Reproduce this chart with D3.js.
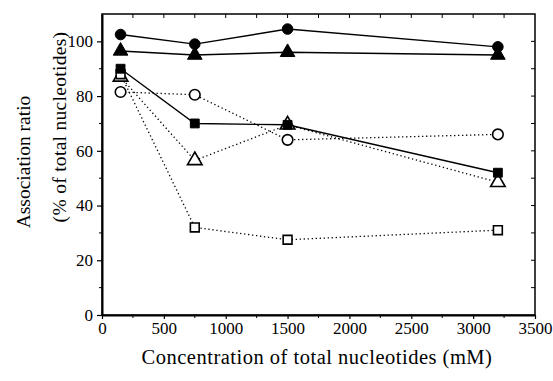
<!DOCTYPE html>
<html><head><meta charset="utf-8">
<script src="https://cdn.jsdelivr.net/npm/d3@7"></script>
<style>body{margin:0;background:#fff}svg{display:block}</style>
</head><body>
<svg id="c" width="553" height="381"></svg>
<script>
const concentrations = [150, 750, 1500, 3200];
const filledCircle   = [102.5, 99, 104.5, 98];
const filledTriangle = [96.5, 95, 96, 95];
const filledSquare   = [90, 70, 69.5, 52];
const openCircle     = [81.5, 80.5, 64, 66];
const openTriangle   = [87, 56.5, 69.5, 48.5];
const openSquare     = [88, 32, 27.5, 31];
const xTicks = [0, 500, 1000, 1500, 2000, 2500, 3000, 3500];
const yTicks = [0, 20, 40, 60, 80, 100];
const xTitle = "Concentration of total nucleotides (mM)";
const yTitle1 = "Association ratio";
const yTitle2 = "(% of total nucleotides)";

const series = [
  {vals: openCircle, shape: "circle", filled: false, dotted: true},
  {vals: openTriangle, shape: "triangle", filled: false, dotted: true},
  {vals: openSquare, shape: "square", filled: false, dotted: true},
  {vals: filledSquare, shape: "square", filled: true, dotted: false},
  {vals: filledTriangle, shape: "triangle", filled: true, dotted: false},
  {vals: filledCircle, shape: "circle", filled: true, dotted: false}
];

const svg = d3.select("#c");
const L = 102, R = 535, T = 14, B = 315;
const x = d3.scaleLinear().domain([0, 3500]).range([L, R]);
const y = d3.scaleLinear().domain([0, 110]).range([B, T]);
const font = "'Liberation Serif', 'Times New Roman', serif";

// frame
svg.append("rect").attr("x", L).attr("y", T).attr("width", R - L).attr("height", B - T)
  .attr("fill", "none").attr("stroke", "#000").attr("stroke-width", 1.5);

// bottom axis
const gx = svg.append("g").attr("transform", `translate(0,${B})`)
  .call(d3.axisBottom(x).tickValues(xTicks).tickFormat(d3.format("d")).tickSize(4).tickSizeOuter(0).tickPadding(3));
gx.attr("font-family", font).attr("font-size", 17);
gx.select(".domain").attr("stroke-width", 2);
gx.selectAll(".tick line").attr("stroke-width", 1.2);
gx.selectAll("text").style("font-family", font).style("font-size", "17px").attr("fill", "#000");
svg.append("g").selectAll("line").data(d3.range(250, 3500, 500)).join("line")
  .attr("x1", d => x(d)).attr("x2", d => x(d)).attr("y1", B).attr("y2", B + 3)
  .attr("stroke", "#000").attr("stroke-width", 1);

// left axis
const gy = svg.append("g").attr("transform", `translate(${L},0)`)
  .call(d3.axisLeft(y).tickValues(yTicks).tickFormat(d3.format("d")).tickSize(5).tickSizeOuter(0).tickPadding(4));
gy.attr("font-family", font).attr("font-size", 17);
gy.select(".domain").attr("stroke-width", 2);
gy.selectAll(".tick line").attr("stroke-width", 1.2);
gy.selectAll("text").style("font-family", font).style("font-size", "17px").attr("fill", "#000");
svg.append("g").selectAll("line").data(d3.range(10, 110, 20)).join("line")
  .attr("x1", L).attr("x2", L - 3).attr("y1", d => y(d)).attr("y2", d => y(d))
  .attr("stroke", "#000").attr("stroke-width", 1);

// top ticks (inward)
svg.append("g").selectAll("line").data(d3.range(250, 3500, 250)).join("line")
  .attr("x1", d => x(d)).attr("x2", d => x(d)).attr("y1", T).attr("y2", T + 4)
  .attr("stroke", "#000").attr("stroke-width", 1);
// right ticks (inward)
svg.append("g").selectAll("line").data(d3.range(10, 110, 10)).join("line")
  .attr("x1", R).attr("x2", R - 4).attr("y1", d => y(d)).attr("y2", d => y(d))
  .attr("stroke", "#000").attr("stroke-width", 1);

// titles
svg.append("text").attr("x", 317).attr("y", 364).attr("text-anchor", "middle")
  .style("font-family", font).style("font-size", "20.5px").style("letter-spacing", "0.5px")
  .attr("fill", "#000").text(xTitle);
svg.append("text").attr("transform", "translate(30,162) rotate(-90)").attr("text-anchor", "middle")
  .style("font-family", font).style("font-size", "19.5px").attr("fill", "#000").text(yTitle1);
svg.append("text").attr("transform", "translate(66,127) rotate(-90)").attr("text-anchor", "middle")
  .style("font-family", font).style("font-size", "19.5px").style("letter-spacing", "0.3px")
  .attr("fill", "#000").text(yTitle2);

// lines
const line = d3.line().x((d, i) => x(concentrations[i])).y(d => y(d));
series.forEach(s => {
  svg.append("path").attr("d", line(s.vals)).attr("fill", "none").attr("stroke", "#000")
    .attr("stroke-width", s.dotted ? 1.3 : 1.4)
    .attr("stroke-dasharray", s.dotted ? "1.3,2.7" : null);
});

// markers
const symType = {circle: d3.symbolCircle, triangle: d3.symbolTriangle, square: d3.symbolSquare};
const symSize = {circle: 88, triangle: 92, square: 78};
series.forEach(s => {
  svg.append("g").selectAll("path").data(s.vals).join("path")
    .attr("transform", (d, i) => `translate(${x(concentrations[i])},${y(d)})`)
    .attr("d", d3.symbol().type(symType[s.shape]).size(symSize[s.shape]))
    .attr("fill", s.filled ? "#000" : "#fff").attr("stroke", "#000")
    .attr("stroke-width", s.filled ? 1 : 1.6);
});
</script>
</body></html>
